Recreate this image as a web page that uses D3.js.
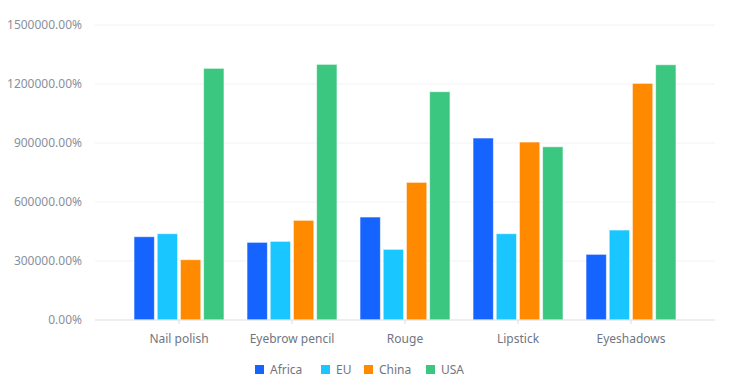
<!DOCTYPE html>
<html>
<head>
<meta charset="utf-8">
<script src="https://cdn.jsdelivr.net/npm/d3@7"></script>
<style>
  body { margin: 0; background: #fff; }
  text { font-family: "Noto Sans", "Open Sans", sans-serif; }
</style>
</head>
<body>
<script>
// categories, series names and values
const categories = ["Nail polish", "Eyebrow pencil", "Rouge", "Lipstick", "Eyeshadows"];
const seriesNames = ["Africa", "EU", "China", "USA"];
const colors = ["#1664FF", "#1AC6FF", "#FF8A00", "#3CC780"];

const africa = [4236, 3950, 5237, 9254, 3340];
const eu     = [4390, 4000, 3594, 4390, 4576];
const china  = [3067, 5070, 7000, 9050, 12034];
const usa    = [12797, 13000, 11610, 8810, 12980];
const yTicks = [0, 3000, 6000, 9000, 12000, 15000];

const seriesValues = [africa, eu, china, usa];

let rows = [];
categories.forEach((c, i) => {
  seriesNames.forEach((s, j) => {
    rows.push({ cat: c, series: s, value: seriesValues[j][i], color: colors[j] });
  });
});

const W = 746, H = 380;
let svg = d3.select("body").append("svg")
  .attr("width", W)
  .attr("height", H);

let x = d3.scaleBand()
  .domain(categories)
  .range([122.5, 687.5]);

let xInner = d3.scaleBand()
  .domain(seriesNames)
  .range([0, 90])
  .paddingInner(0.12);

let y = d3.scaleLinear()
  .domain([0, 15000])
  .range([320, 25]);

let fmt = d3.format(".2%");

// grid lines
svg.append("g")
  .selectAll("line")
  .data(yTicks.filter(t => t > 0))
  .enter()
    .append("line")
      .attr("x1", 95)
      .attr("x2", 715)
      .attr("y1", d => y(d))
      .attr("y2", d => y(d))
      .attr("stroke", "#f1f2f5")
      .attr("stroke-width", 1);

// y axis labels
let yAxis = d3.axisLeft(y).tickValues(yTicks).tickFormat(fmt).tickSize(0).tickPadding(0);
let gy = svg.append("g")
  .attr("transform", "translate(82,0)")
  .call(yAxis);
gy.select(".domain").remove();
gy.selectAll("text")
  .attr("fill", "#89909d")
  .style("font-size", "12px");

// bars
svg.append("g")
  .selectAll("rect")
  .data(rows)
  .enter()
    .append("rect")
      .attr("x", d => x(d.cat) + x.bandwidth() / 2 - 45 + xInner(d.series))
      .attr("y", d => y(d.value))
      .attr("width", xInner.bandwidth())
      .attr("height", d => y(0) - y(d.value))
      .attr("fill", d => d.color)
      .attr("stroke", "rgba(255,255,255,0.6)")
      .attr("stroke-width", 1);

// x axis
let xAxis = d3.axisBottom(x).tickSize(4).tickPadding(10);
let gx = svg.append("g")
  .attr("transform", "translate(0,320)")
  .call(xAxis);
gx.select(".domain").remove();
gx.append("line")
  .attr("x1", 95).attr("x2", 715)
  .attr("stroke", "#d9dde4");
gx.selectAll(".tick line").attr("stroke", "#d9dde4");
gx.selectAll("text")
  .attr("fill", "#6f7682")
  .style("font-size", "12px");

// legend
let legendX = [255, 321, 364, 426];
let legend = svg.append("g")
  .selectAll("g")
  .data(seriesNames)
  .enter()
    .append("g")
      .attr("transform", (d, i) => "translate(" + legendX[i] + ",365)");
legend.append("rect")
  .attr("width", 9).attr("height", 9)
  .attr("fill", (d, i) => colors[i]);
legend.append("text")
  .attr("x", 15)
  .attr("y", 4.5)
  .attr("dy", "0.35em")
  .attr("fill", "#6f7682")
  .style("font-size", "12px")
  .text(d => d);
</script>
</body>
</html>
